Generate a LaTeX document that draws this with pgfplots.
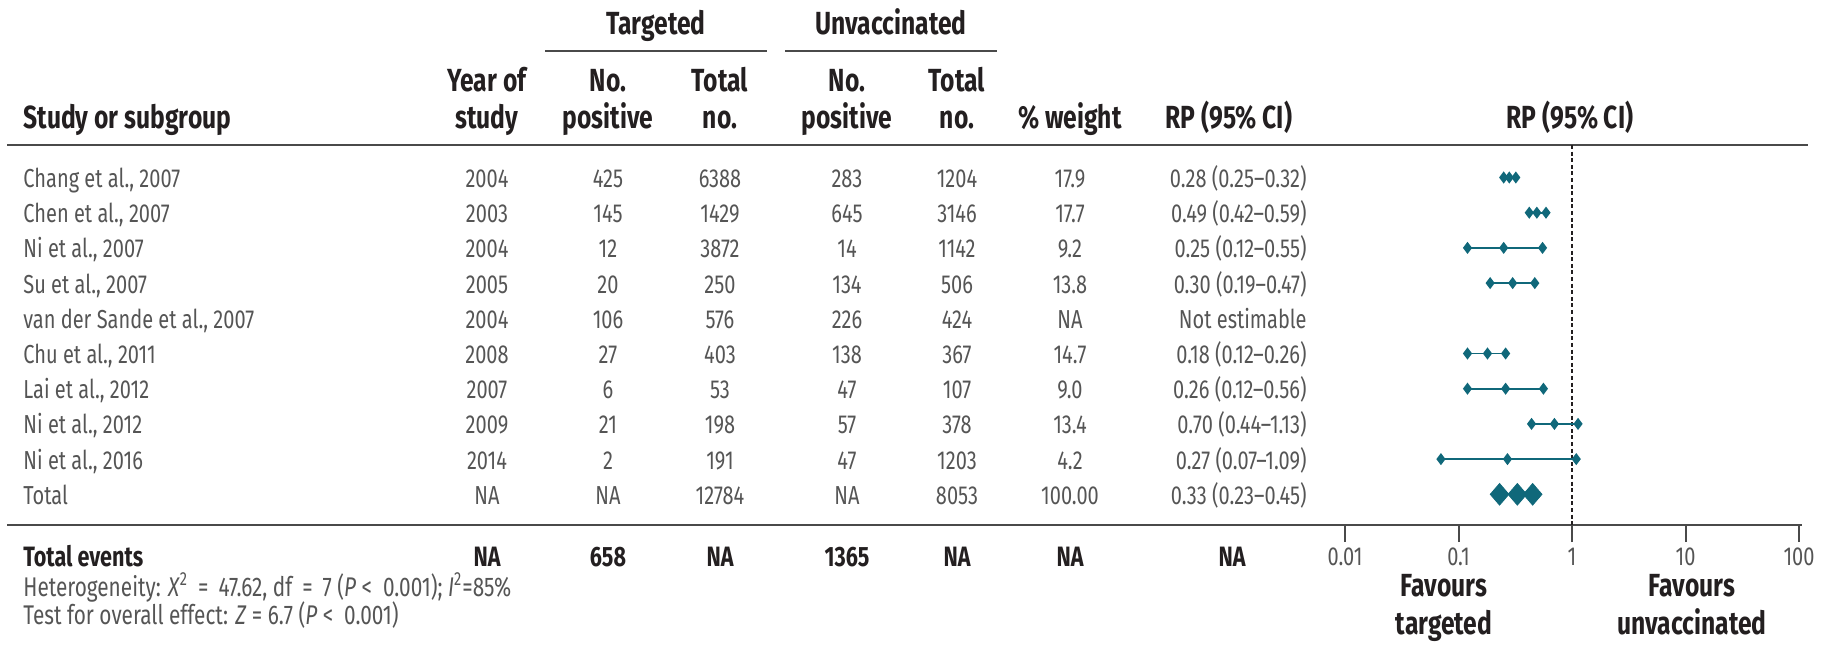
\documentclass[border=0pt]{standalone}
\usepackage{pgfplots}
\pgfplotsset{compat=1.18}
\usepackage{fontspec}
\setmainfont{Fira Sans}[FakeStretch=0.77]

\definecolor{forestteal}{HTML}{10687A}
\definecolor{bodytext}{HTML}{555555}
\definecolor{headtext}{HTML}{231F20}
\definecolor{rulecol}{HTML}{4A4A4A}

\newcommand\bodyfont{\fontsize{13pt}{15pt}\selectfont}
\newcommand\headfont{\fontsize{16pt}{18pt}\selectfont\bfseries}

% one line of the study table; #1 is the row index
\newcommand\studyrow[9]{%
  \pgfmathsetmacro\yb{187.5+35.2*#1}%
  \node[anchor=base west] at (23,\yb) {#2};
  \node[anchor=base] at (487,\yb) {#3};
  \node[anchor=base] at (608,\yb) {#4};
  \node[anchor=base] at (720,\yb) {#5};
  \node[anchor=base] at (847,\yb) {#6};
  \node[anchor=base] at (957,\yb) {#7};
  \node[anchor=base] at (1070,\yb) {#8};
  \node[anchor=base east] at (1307,\yb) {#9};
}

\begin{document}
\begin{tikzpicture}
\begin{scope}[x=0.5pt,y=-0.5pt,every node/.style={inner sep=0pt}]
  \path[use as bounding box] (0,0) rectangle (1839,662);

  % column headers
  \begin{scope}[every node/.append style={font=\headfont,text=headtext}]
    \node[anchor=base] at (656,35) {Targeted};
    \node[anchor=base] at (891,35) {Unvaccinated};
    \node[anchor=base] at (487,92) {Year of};
    \node[anchor=base] at (608,92) {No.};
    \node[anchor=base] at (720,92) {Total};
    \node[anchor=base] at (847,92) {No.};
    \node[anchor=base] at (957,92) {Total};
    \node[anchor=base west] at (23,129) {Study or subgroup};
    \node[anchor=base] at (487,129) {study};
    \node[anchor=base] at (608,129) {positive};
    \node[anchor=base] at (720,129) {no.};
    \node[anchor=base] at (847,129) {positive};
    \node[anchor=base] at (957,129) {no.};
    \node[anchor=base] at (1070,129) {\% weight};
    \node[anchor=base west] at (1165,129) {RP (95\% CI)};
    \node[anchor=base] at (1570,129) {RP (95\% CI)};
  \end{scope}
  \draw[rulecol,line width=1.2pt] (545,51) -- (767,51);
  \draw[rulecol,line width=1.2pt] (785,51) -- (997,51);
  \draw[rulecol,line width=1.3pt] (7,145) -- (1808,145);
  \draw[rulecol,line width=1.3pt] (7,525) -- (1802,525);

  % study rows
  \begin{scope}[every node/.append style={font=\bodyfont,text=bodytext}]
    \studyrow{0}{Chang et al., 2007}{2004}{425}{6388}{283}{1204}{17.9}{0.28 (0.25–0.32)}
    \studyrow{1}{Chen et al., 2007}{2003}{145}{1429}{645}{3146}{17.7}{0.49 (0.42–0.59)}
    \studyrow{2}{Ni et al., 2007}{2004}{12}{3872}{14}{1142}{9.2}{0.25 (0.12–0.55)}
    \studyrow{3}{Su et al., 2007}{2005}{20}{250}{134}{506}{13.8}{0.30 (0.19–0.47)}
    \studyrow{4}{van der Sande et al., 2007}{2004}{106}{576}{226}{424}{NA}{Not estimable}
    \studyrow{5}{Chu et al., 2011}{2008}{27}{403}{138}{367}{14.7}{0.18 (0.12–0.26)}
    \studyrow{6}{Lai et al., 2012}{2007}{6}{53}{47}{107}{9.0}{0.26 (0.12–0.56)}
    \studyrow{7}{Ni et al., 2012}{2009}{21}{198}{57}{378}{13.4}{0.70 (0.44–1.13)}
    \studyrow{8}{Ni et al., 2016}{2014}{2}{191}{47}{1203}{4.2}{0.27 (0.07–1.09)}
    \studyrow{9}{Total}{NA}{NA}{12784}{NA}{8053}{100.00}{0.33 (0.23–0.45)}
  \end{scope}
  \begin{scope}[every node/.append style={font=\fontsize{13.5pt}{15pt}\selectfont,text=bodytext}]
    \node[anchor=base west] at (23,596) {Heterogeneity: \textit{X}\textsuperscript{2}\ \,=\ \,47.62, df\ \,=\ \,7 (\textit{P}\ <\ \ 0.001); \textit{I}\textsuperscript{2}=85\%};
    \node[anchor=base west] at (23,624) {Test for overall effect: \textit{Z}\ =\ 6.7 (\textit{P}\ <\ \ 0.001)};
  \end{scope}

  % totals and direction labels
  \begin{scope}[every node/.append style={font=\fontsize{14pt}{16pt}\selectfont\bfseries,text=headtext}]
    \node[anchor=base west] at (23,566) {Total events};
    \node[anchor=base] at (487,566) {NA};
    \node[anchor=base] at (608,566) {658};
    \node[anchor=base] at (720,566) {NA};
    \node[anchor=base] at (847,566) {1365};
    \node[anchor=base] at (957,566) {NA};
    \node[anchor=base] at (1070,566) {NA};
    \node[anchor=base] at (1232,566) {NA};
  \end{scope}
  \begin{scope}[every node/.append style={font=\headfont,text=headtext}]
    \node[anchor=base] at (1444,596) {Favours};
    \node[anchor=base] at (1444,634) {targeted};
    \node[anchor=base] at (1692,596) {Favours};
    \node[anchor=base] at (1692,634) {unvaccinated};
  \end{scope}
\end{scope}

\begin{axis}[
  at={(672.5pt,-262.5pt)}, anchor=south west,
  scale only axis, width=227pt, height=190pt,
  xmode=log, xmin=0.01, xmax=100,
  ymin=-0.923, ymax=9.872, y dir=reverse,
  axis y line=none, axis x line*=bottom,
  axis line style={-, rulecol, line width=1.2pt},
  xtick={0.01,0.1,1,10,100},
  xticklabels={0.01,0.1,1,10,100},
  xminorticks=false,
  tick align=outside, major tick length=8.5pt,
  every tick/.style={rulecol, line width=1pt},
  xticklabel style={anchor=base, yshift=-11.5pt, font=\bodyfont, text=bodytext},
  clip=false,
]
  % line of no effect
  \addplot[headtext, line width=0.8pt, dash pattern=on 2pt off 1.3pt, mark=none]
    coordinates {(1,-0.923) (1,9.872)};
  % study estimates: lower limit, point estimate, upper limit
  \addplot[forestteal, line width=0.9pt, mark=diamond*, mark size=2.3pt] coordinates {(0.25,0) (0.28,0) (0.32,0)};
  \addplot[forestteal, line width=0.9pt, mark=diamond*, mark size=2.3pt] coordinates {(0.42,1) (0.49,1) (0.59,1)};
  \addplot[forestteal, line width=0.9pt, mark=diamond*, mark size=2.3pt] coordinates {(0.12,2) (0.25,2) (0.55,2)};
  \addplot[forestteal, line width=0.9pt, mark=diamond*, mark size=2.3pt] coordinates {(0.19,3) (0.30,3) (0.47,3)};
  \addplot[forestteal, line width=0.9pt, mark=diamond*, mark size=2.3pt] coordinates {(0.12,5) (0.18,5) (0.26,5)};
  \addplot[forestteal, line width=0.9pt, mark=diamond*, mark size=2.3pt] coordinates {(0.12,6) (0.26,6) (0.56,6)};
  \addplot[forestteal, line width=0.9pt, mark=diamond*, mark size=2.3pt] coordinates {(0.44,7) (0.70,7) (1.13,7)};
  \addplot[forestteal, line width=0.9pt, mark=diamond*, mark size=2.3pt] coordinates {(0.07,8) (0.27,8) (1.09,8)};
  % pooled estimate
  \addplot[only marks, forestteal, mark=diamond*, mark size=5.4pt, mark options={xscale=1.15}]
    coordinates {(0.23,9) (0.33,9) (0.45,9)};
\end{axis}
\end{tikzpicture}
\end{document}
